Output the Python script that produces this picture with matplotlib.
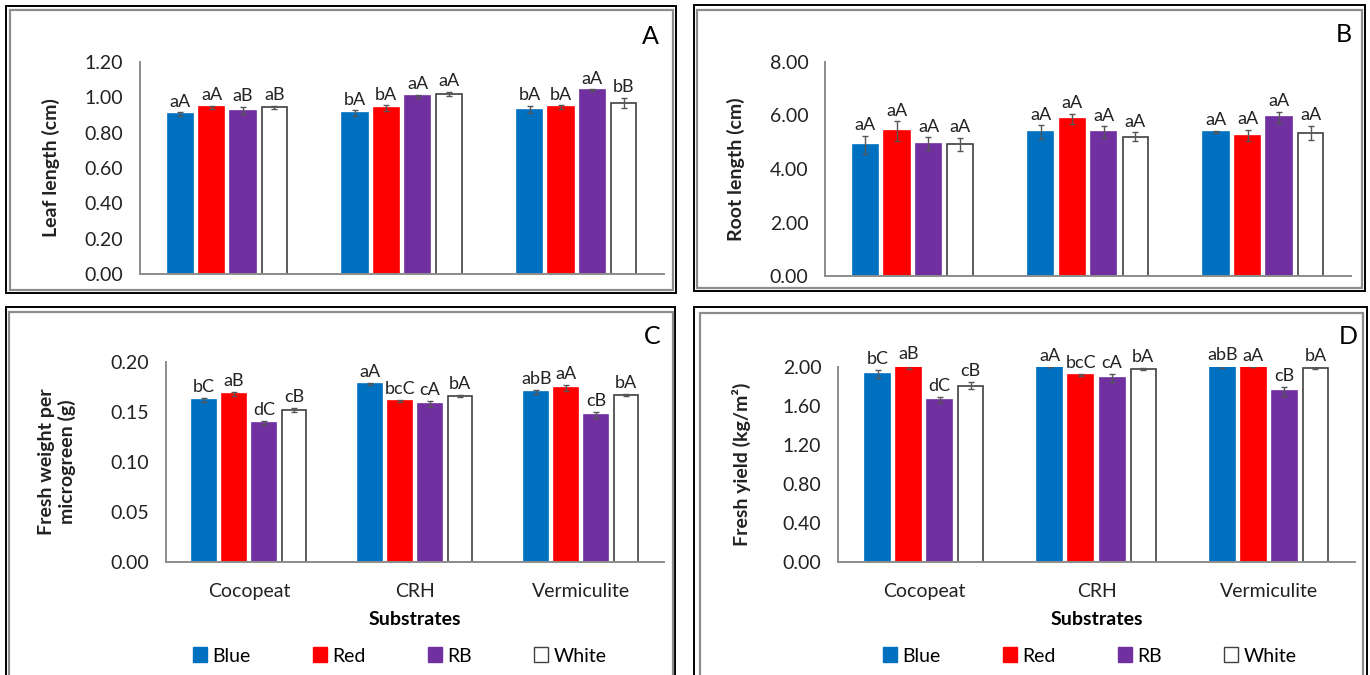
import numpy as np
import matplotlib
matplotlib.use('Agg')
import matplotlib.pyplot as plt
from matplotlib import patches
from matplotlib import rcParams

rcParams['font.family'] = ['Lato', 'DejaVu Sans']

substrates = ['Cocopeat', 'CRH', 'Vermiculite']
series = ['Blue', 'Red', 'RB', 'White']
colors = ['#0070C0', '#FF0000', '#7030A0', '#FFFFFF']

# A: leaf length (cm)
leaf_blue = [0.905, 0.911, 0.930]
leaf_red = [0.943, 0.940, 0.945]
leaf_rb = [0.924, 1.006, 1.040]
leaf_white = [0.943, 1.019, 0.968]
leaf_err = [[0.010, 0.015, 0.020], [0.010, 0.015, 0.010], [0.020, 0.010, 0.005], [0.008, 0.010, 0.030]]
leaf_let = [['aA', 'bA', 'bA'], ['aA', 'bA', 'bA'], ['aB', 'aA', 'aA'], ['aB', 'aA', 'bB']]

# B: root length (cm)
root_blue = [4.89, 5.37, 5.39]
root_red = [5.42, 5.88, 5.24]
root_rb = [4.94, 5.37, 5.93]
root_white = [4.93, 5.21, 5.36]
root_err = [[0.34, 0.26, 0.03], [0.36, 0.18, 0.21], [0.24, 0.22, 0.20], [0.24, 0.16, 0.26]]
root_let = [['aA', 'aA', 'aA'], ['aA', 'aA', 'aA'], ['aA', 'aA', 'aA'], ['aA', 'aA', 'aA']]

# C: fresh weight per microgreen (g)
fw_blue = [0.162, 0.178, 0.170]
fw_red = [0.168, 0.161, 0.174]
fw_rb = [0.139, 0.158, 0.147]
fw_white = [0.152, 0.166, 0.167]
fw_err = [[0.002, 0.001, 0.002], [0.002, 0.001, 0.003], [0.002, 0.003, 0.003], [0.002, 0.001, 0.001]]
fw_let = [['bC', 'aA', 'abB'], ['aB', 'bcC', 'aA'], ['dC', 'cA', 'cB'], ['cB', 'bA', 'bA']]

# D: fresh yield (kg/m2)
fy_blue = [1.93, 2.00, 2.00]
fy_red = [2.00, 1.92, 2.00]
fy_rb = [1.66, 1.89, 1.75]
fy_white = [1.81, 1.98, 1.99]
fy_err = [[0.04, 0.0, 0.01], [0.02, 0.01, 0.0], [0.03, 0.04, 0.05], [0.04, 0.01, 0.01]]
fy_let = [['bC', 'aA', 'abB'], ['aB', 'bcC', 'aA'], ['dC', 'cA', 'cB'], ['cB', 'bA', 'bA']]

W, H = 1370, 675
fig = plt.figure(figsize=(13.7, 6.75), dpi=100)


def px(x0, y0, x1, y1):
    # pixel box -> figure fraction [left, bottom, width, height]
    return [x0 / W, 1 - y1 / H, (x1 - x0) / W, (y1 - y0) / H]


def frame(x0, y0, x1, y1, ix0, iy0, ix1, iy1):
    fig.patches.append(patches.Rectangle((x0 / W, 1 - y1 / H), (x1 - x0) / W, (y1 - y0) / H,
                                         transform=fig.transFigure, fill=False, ec='black', lw=1.4))
    fig.patches.append(patches.Rectangle((ix0 / W, 1 - iy1 / H), (ix1 - ix0) / W, (iy1 - iy0) / H,
                                         transform=fig.transFigure, fill=False, ec='#8c8c8c', lw=1.6))


frame(6, 6, 676, 293, 10, 10, 673, 290)
frame(694, 5, 1365, 291, 697, 10, 1362, 288)
frame(6, 307, 675, 678, 9, 312, 673, 678)
frame(694, 307, 1367, 678, 700, 313, 1363, 678)


def panel(rect, data, errs, letters, ymax, step, ylabel, labx, tag, tagpos, xlabels):
    ax = fig.add_axes(rect)
    x = np.arange(len(substrates))
    offs = [-0.27, -0.09, 0.09, 0.27]
    for i in range(4):
        ec = '#404040' if series[i] == 'White' else colors[i]
        ax.bar(x + offs[i], data[i], 0.145, color=colors[i], edgecolor=ec, linewidth=1.2, zorder=2)
        ax.errorbar(x + offs[i], data[i], yerr=errs[i], fmt='none', ecolor='#555555',
                    elinewidth=1, capsize=2.5, capthick=1, zorder=3)
        for j in range(len(x)):
            ax.annotate(letters[i][j], (x[j] + offs[i], data[i][j] + errs[i][j]),
                        xytext=(0, 2), textcoords='offset points', ha='center', va='bottom',
                        fontsize=13, color='#222222', annotation_clip=False)
    ax.set_xlim(-0.5, 2.5)
    ax.set_ylim(0, ymax)
    ax.set_yticks(np.arange(0, ymax + step / 2, step))
    ax.yaxis.set_major_formatter(matplotlib.ticker.FormatStrFormatter('%.2f'))
    ax.set_xticks(x)
    if xlabels:
        ax.set_xticklabels(substrates)
        ax.set_xlabel('Substrates', fontsize=14, fontweight='bold', labelpad=8)
    else:
        ax.set_xticklabels([])
    ax.tick_params(axis='both', length=0, colors='#222222')
    ax.tick_params(axis='y', labelsize=14, pad=12)
    ax.tick_params(axis='x', labelsize=14, pad=15)
    for s in ['top', 'right']:
        ax.spines[s].set_visible(False)
    for s in ['left', 'bottom']:
        ax.spines[s].set_color('#8c8c8c')
        ax.spines[s].set_linewidth(1.4)
    ax.set_ylabel(ylabel, fontsize=14, fontweight='bold', va='center', color='#222222')
    ax.yaxis.set_label_coords(labx, 0.5)
    fig.text(tagpos[0] / W, 1 - tagpos[1] / H, tag, fontsize=18, ha='center', va='center')
    return ax


panel(px(140, 62, 664, 274), [leaf_blue, leaf_red, leaf_rb, leaf_white], leaf_err, leaf_let,
      1.2, 0.2, 'Leaf length (cm)', -0.170, 'A', (650, 36), False)
panel(px(825, 62, 1351, 276), [root_blue, root_red, root_rb, root_white], root_err, root_let,
      8.0, 2.0, 'Root length (cm)', -0.169, 'B', (1344, 35), False)
axc = panel(px(166, 362, 664, 562), [fw_blue, fw_red, fw_rb, fw_white], fw_err, fw_let,
            0.2, 0.05, 'Fresh weight per\nmicrogreen (g)', -0.219, 'C', (652, 337), True)
axd = panel(px(838, 367, 1355, 562), [fy_blue, fy_red, fy_rb, fy_white], fy_err, fy_let,
            2.0, 0.4, 'Fresh yield (kg/m²)', -0.186, 'D', (1348, 337), True)

handles = [patches.Patch(facecolor=colors[i], edgecolor='#404040' if series[i] == 'White' else colors[i])
           for i in range(4)]
for cx in [400, 1090]:
    fig.legend(handles, series, loc='center', bbox_to_anchor=(cx / W, 1 - 656 / H), ncol=4,
               frameon=False, fontsize=14, handlelength=0.7, handleheight=0.8,
               handletextpad=0.3, columnspacing=3.2)

fig.savefig('out.png', dpi=100)
